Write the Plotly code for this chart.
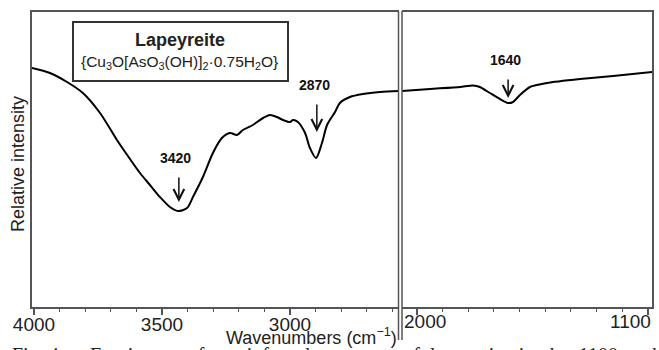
import plotly.graph_objects as go

W, H = 659, 350

# ---- data ----
wn_high = [4008, 3938, 3871, 3809, 3742, 3676, 3625, 3586, 3547, 3508, 3469, 3438, 3402,
           3379, 3340, 3301, 3266, 3234, 3207, 3184, 3145, 3105, 3078, 3051, 3027, 3000,
           2988, 2969, 2941, 2922, 2898, 2875, 2855, 2824, 2805, 2766, 2715, 2648, 2570]
int_high = [239, 234, 225, 214, 194, 167, 148, 134, 122, 110, 100, 96, 99,
            110, 130, 154, 169, 174, 172, 177, 182, 189, 192, 190, 187, 185,
            187, 185, 174, 159, 149, 164, 182, 195, 204, 210, 213, 215, 216]

wn_low = [2058, 1949, 1832, 1782, 1755, 1716, 1677, 1646, 1626, 1599, 1560, 1494, 1365, 1236, 1084]
int_low = [216, 218, 220, 221.5, 220, 214, 208, 204, 205, 212, 220, 224, 228, 231, 235]

left_ticks = [4000, 3500, 3000]
left_ticktext = ["4000", "3500", "3000"]
right_ticks = [2000, 1100]
right_ticktext = ["2000", "1100"]

peak_labels = ["3420", "2870", "1640"]
peak_tip_x = [3434, 2895, 1645]
peak_tip_y = [105, 175, 209]
peak_label_x = [3447, 2906, 1657]
peak_label_y = [149, 222, 247]
peak_axis = ["x", "x", "x2"]

def px(v):
    return v / W

def py(v):
    return 1 - v / H

FRAME = "#555555"
FONT = "Liberation Sans, Arial, sans-serif"

fig = go.Figure()
fig.add_trace(go.Scatter(x=wn_high, y=int_high, mode="lines", xaxis="x", yaxis="y",
                         line=dict(color="black", width=2, shape="spline", smoothing=0.8),
                         showlegend=False, hoverinfo="skip"))
fig.add_trace(go.Scatter(x=wn_low, y=int_low, mode="lines", xaxis="x2", yaxis="y2",
                         line=dict(color="black", width=2, shape="spline", smoothing=0.6),
                         showlegend=False, hoverinfo="skip"))

ydom = [py(307), py(12)]
common_x = dict(showgrid=False, zeroline=False, showline=True, linecolor=FRAME, linewidth=2,
                mirror=True, ticks="outside", ticklen=6, tickwidth=1.5, tickcolor=FRAME,
                automargin=False, ticklabelstandoff=-7,
                tickfont=dict(family=FONT, size=19, color="#222"),
                minor=dict(dtick=100, ticks="outside", ticklen=3, tickwidth=1.2, tickcolor=FRAME))

fig.update_layout(
    width=W, height=H, margin=dict(l=0, r=0, t=0, b=0, pad=0, autoexpand=False),
    paper_bgcolor="white", plot_bgcolor="white", showlegend=False,
    xaxis=dict(domain=[px(32), px(399)], range=[4007.8, 2574], tickvals=left_ticks,
               ticktext=left_ticktext, anchor="y", **common_x),
    xaxis2=dict(domain=[px(402), px(652)], range=[2058.4, 1084.4], tickvals=right_ticks,
                ticktext=right_ticktext, showticklabels=False, anchor="y2", **common_x),
    yaxis=dict(domain=ydom, range=[0, 295], showgrid=False, zeroline=False, showline=True,
               linecolor=FRAME, linewidth=2, showticklabels=False, ticks="", anchor="x",
               automargin=False),
    yaxis2=dict(domain=ydom, range=[0, 295], showgrid=False, zeroline=False, showline=True,
                linecolor=FRAME, linewidth=2, showticklabels=False, ticks="", anchor="x2",
                side="right", automargin=False),
)

shapes = []
for xv in (398.5, 402):
    shapes.append(dict(type="line", xref="paper", yref="paper", x0=px(xv), x1=px(xv),
                       y0=py(11), y1=py(340), line=dict(color=FRAME, width=1.5)))
shapes.append(dict(type="rect", xref="paper", yref="paper", x0=px(73), x1=px(288),
                   y0=py(81), y1=py(22), line=dict(color="#333", width=2), fillcolor="white"))
fig.update_layout(shapes=shapes)

ann = []
# right-panel tick labels (offset as in the original)
ann.append(dict(text=right_ticktext[0], x=right_ticks[0], xref="x2", y=py(321), yref="paper",
                xanchor="center", yanchor="middle", xshift=8, showarrow=False,
                font=dict(family=FONT, size=19, color="#222")))
ann.append(dict(text=right_ticktext[1], x=right_ticks[1], xref="x2", y=py(321), yref="paper",
                xanchor="center", yanchor="middle", xshift=-18, showarrow=False,
                font=dict(family=FONT, size=19, color="#222")))
# axis titles
ann.append(dict(text="Wavenumbers (cm<sup>−1</sup>)", x=px(311), y=py(336), xref="paper", yref="paper",
                xanchor="center", yanchor="middle", showarrow=False,
                font=dict(family=FONT, size=18, color="#222")))
ann.append(dict(text="Relative intensity", x=px(18), y=py(164), xref="paper", yref="paper",
                textangle=-90, xanchor="center", yanchor="middle", showarrow=False,
                font=dict(family=FONT, size=18, color="#222")))
# title box
ann.append(dict(text="<b>Lapeyreite</b>", x=px(180), y=py(40), xref="paper", yref="paper",
                xanchor="center", yanchor="middle", showarrow=False,
                font=dict(family=FONT, size=18, color="#222")))
ann.append(dict(text="{Cu<sub>3</sub>O[AsO<sub>3</sub>(OH)]<sub>2</sub>·0.75H<sub>2</sub>O}",
                x=px(180), y=py(63), xref="paper", yref="paper",
                xanchor="center", yanchor="middle", showarrow=False,
                font=dict(family=FONT, size=15.5, color="#222")))
# peak labels and arrows
for lab, tx, ty, lx, ly, ax_ in zip(peak_labels, peak_tip_x, peak_tip_y, peak_label_x,
                                    peak_label_y, peak_axis):
    yref = "y" if ax_ == "x" else "y2"
    ann.append(dict(text="<b>%s</b>" % lab, x=lx, y=ly, xref=ax_, yref=yref,
                    xanchor="center", yanchor="middle", showarrow=False,
                    font=dict(family=FONT, size=14, color="#111")))
    arrow_len = -((ly - ty) - 18)
    ann.append(dict(text="", x=tx, y=ty, xref=ax_, yref=yref, showarrow=True,
                    ax=0, ay=arrow_len, arrowhead=5, arrowsize=1.4, arrowwidth=1.5,
                    arrowcolor="#111"))
# cut-off caption at the bottom
ann.append(dict(text="Fig. 4", x=px(10), y=py(342), xref="paper", yref="paper",
                xanchor="left", yanchor="top", showarrow=False,
                font=dict(family="Liberation Serif, Times New Roman, serif", size=20, color="#222")))
ann.append(dict(text="Fourier  transform  infrared  spectrum  of  lapeyreite  in  the  1100  and",
                x=px(88), y=py(342), xref="paper", yref="paper",
                xanchor="left", yanchor="top", showarrow=False,
                font=dict(family="Liberation Serif, Times New Roman, serif", size=20, color="#222")))
fig.update_layout(annotations=ann)

fig.write_html("out.html")
